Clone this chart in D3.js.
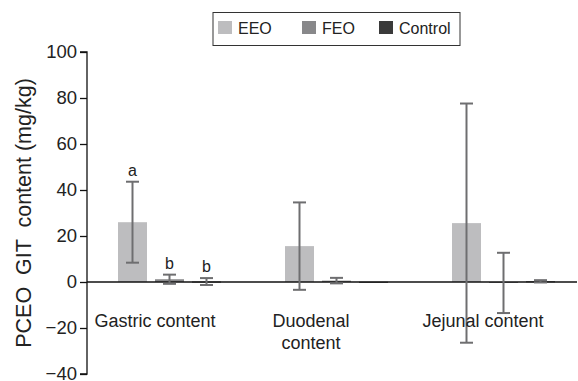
<!DOCTYPE html>
<html><head><meta charset="utf-8">
<script src="https://cdn.jsdelivr.net/npm/d3@7"></script>
<style>
body{margin:0;background:#fff;}
svg{display:block;font-family:"Liberation Sans",Arial,Helvetica,sans-serif;}
</style></head>
<body><svg id="c" width="578" height="381"></svg>
<script>
const categories = ["Gastric content","Duodenal content","Jejunal content"];
const categoryLines = [["Gastric content"],["Duodenal","content"],["Jejunal content"]];
const series = ["EEO","FEO","Control"];
const eeoValues = [26, 15.6, 25.6];
const eeoSD = [17.6, 19, 52];
const feoValues = [1.2, 0.6, -0.4];
const feoSD = [2, 1.2, 13.1];
const controlValues = [0.2, 0.1, 0.3];
const controlSD = [1.5, 0, 0.5];
const gastricLetters = ["a","b","b"];
const yTicks = [-40,-20,0,20,40,60,80,100];

const colors = {EEO:"#bdbdbf", FEO:"#88888a", Control:"#3a3a3a"};
const svg = d3.select("#c");
const axisX = 87;
const y = d3.scaleLinear().domain([-40,100]).range([374,52]);
const x0 = d3.scaleBand().domain(categories).range([85,586]);
const x1 = d3.scaleBand().domain(series).range([29,140]).paddingInner(8/37).paddingOuter(4/37);

const vals = {EEO:eeoValues, FEO:feoValues, Control:controlValues};
const sds = {EEO:eeoSD, FEO:feoSD, Control:controlSD};
const rows = [];
categories.forEach((c,i)=>series.forEach(s=>rows.push({c,i,s,v:vals[s][i],sd:sds[s][i]})));

// bars
svg.append("g").selectAll("rect").data(rows).join("rect")
  .attr("x",d=>x0(d.c)+x1(d.s))
  .attr("width",x1.bandwidth())
  .attr("y",d=>Math.min(y(d.v),y(0)))
  .attr("height",d=>Math.max(1,Math.abs(y(d.v)-y(0))))
  .attr("fill",d=>colors[d.s]);

// zero line
svg.append("line").attr("x1",axisX).attr("x2",577).attr("y1",y(0)).attr("y2",y(0))
  .attr("stroke","#111").attr("stroke-width",1.3);

// error bars
const eg = svg.append("g").attr("stroke","#6e6e70").attr("stroke-width",2).attr("fill","none");
rows.filter(d=>d.sd>0).forEach(d=>{
  const cx = x0(d.c)+x1(d.s)+x1.bandwidth()/2;
  const hi = y(d.v+d.sd), lo = y(d.v-d.sd);
  eg.append("line").attr("x1",cx).attr("x2",cx).attr("y1",hi).attr("y2",lo);
  eg.append("line").attr("x1",cx-6.5).attr("x2",cx+6.5).attr("y1",hi).attr("y2",hi);
  eg.append("line").attr("x1",cx-6.5).attr("x2",cx+6.5).attr("y1",lo).attr("y2",lo);
});

// significance letters
series.forEach((s,k)=>{
  const d = rows.find(r=>r.i===0 && r.s===s);
  svg.append("text").attr("x",x0(d.c)+x1(s)+x1.bandwidth()/2).attr("y",y(d.v+d.sd)-6)
    .attr("text-anchor","middle").attr("font-size",16).attr("fill","#222").text(gastricLetters[k]);
});

// y axis
const ax = svg.append("g").attr("transform",`translate(${axisX},0)`)
  .call(d3.axisLeft(y).tickValues(yTicks).tickSize(7).tickPadding(3).tickFormat(d=>d<0?"\u2212"+Math.abs(d):d));
ax.select(".domain").attr("stroke","#111").attr("stroke-width",1.3).attr("d",`M-7,${y(100)}H0V${y(-40)}H-7`);
ax.selectAll(".tick line").attr("stroke","#111").attr("stroke-width",1.3);
ax.selectAll(".tick text").attr("font-size",18.5).attr("fill","#222").attr("font-family","Liberation Sans, Arial, sans-serif");

// y title
svg.append("text").attr("transform",`translate(31,${213}) rotate(-90)`)
  .attr("text-anchor","middle").attr("font-size",21.5).attr("fill","#222")
  .attr("xml:space","preserve").style("white-space","pre").text("PCEO  GIT  content (mg/kg)");

// category labels
const labelDx = [-13.5,-24.5,-19.5];
categories.forEach((c,i)=>{
  const t = svg.append("text").attr("text-anchor","middle").attr("font-size",18).attr("fill","#222");
  categoryLines[i].forEach((ln,j)=>{
    t.append("tspan").attr("x",x0(c)+x0.bandwidth()/2+labelDx[i]).attr("y",327+j*22).text(ln);
  });
});

// legend
const lg = svg.append("g");
lg.append("rect").attr("x",213).attr("y",12.5).attr("width",247).attr("height",33)
  .attr("fill","#fff").attr("stroke","#333").attr("stroke-width",1);
const lx = [218,302,379];
series.forEach((s,k)=>{
  lg.append("rect").attr("x",lx[k]).attr("y",21).attr("width",14).attr("height",13).attr("fill",colors[s]);
  lg.append("text").attr("x",lx[k]+20).attr("y",33.5).attr("font-size",16).attr("fill","#222").text(s);
});
</script></body></html>
